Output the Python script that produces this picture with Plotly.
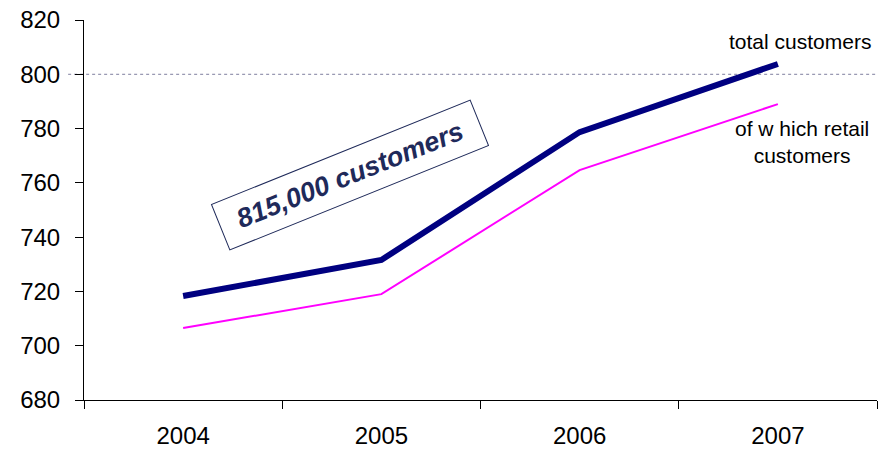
import plotly.graph_objects as go

years = ["2004", "2005", "2006", "2007"]
total_customers = [718.3, 731.6, 778.7, 803.8]
retail_customers = [706.5, 719.0, 764.7, 789.0]
y_ticks = [680, 700, 720, 740, 760, 780, 800, 820]

fig = go.Figure()
fig.add_trace(go.Scatter(x=years, y=retail_customers, mode="lines",
                         line=dict(color="#FF00FF", width=2), showlegend=False))
fig.add_trace(go.Scatter(x=years, y=total_customers, mode="lines",
                         line=dict(color="#000080", width=6), showlegend=False))

fig.add_shape(type="line", xref="paper", yref="y", x0=-0.02, x1=1, y0=800, y1=800,
              line=dict(color="#7F7F9F", width=1, dash="dot"), layer="below")

font_family = "Liberation Sans, Arial, sans-serif"

fig.add_annotation(xref="paper", yref="paper", x=0.995, y=(400 - 42) / 380,
                   text="total customers", showarrow=False, xanchor="right", yanchor="middle",
                   font=dict(family=font_family, size=21, color="black"))
fig.add_annotation(xref="paper", yref="paper", x=(802 - 84) / 793, y=(400 - 141.5) / 380,
                   text="of w hich retail<br>customers", showarrow=False, xanchor="center",
                   yanchor="middle", align="center",
                   font=dict(family=font_family, size=21, color="black"))
fig.add_annotation(xref="paper", yref="paper", x=(350 - 84) / 793, y=(400 - 175) / 380,
                   text="<b><i>815,000 customers</i></b>", showarrow=False, textangle=-22,
                   xanchor="center", yanchor="middle",
                   font=dict(family=font_family, size=27, color="#1F2A5A"),
                   bordercolor="#1F2A5A", borderwidth=1, borderpad=4,
                   width=270, height=40, bgcolor="white")

fig.update_layout(
    width=890, height=449,
    margin=dict(l=84, r=13, t=20, b=49),
    paper_bgcolor="white", plot_bgcolor="white",
    font=dict(family=font_family, color="black"),
    xaxis=dict(type="category", range=[-0.5, 3.5], showgrid=False, automargin=False,
               showline=True, linecolor="black", linewidth=1,
               ticks="outside", tickson="boundaries", ticklen=8, tickcolor="black",
               tickfont=dict(size=24, family=font_family), ticklabelstandoff=14),
    yaxis=dict(range=[680, 820], tickvals=y_ticks, showgrid=False, zeroline=False,
               automargin=False,
               showline=True, linecolor="black", linewidth=1,
               ticks="outside", ticklen=8, tickcolor="black",
               tickfont=dict(size=24, family=font_family), ticklabelstandoff=10),
)

fig.write_html("out.html")
